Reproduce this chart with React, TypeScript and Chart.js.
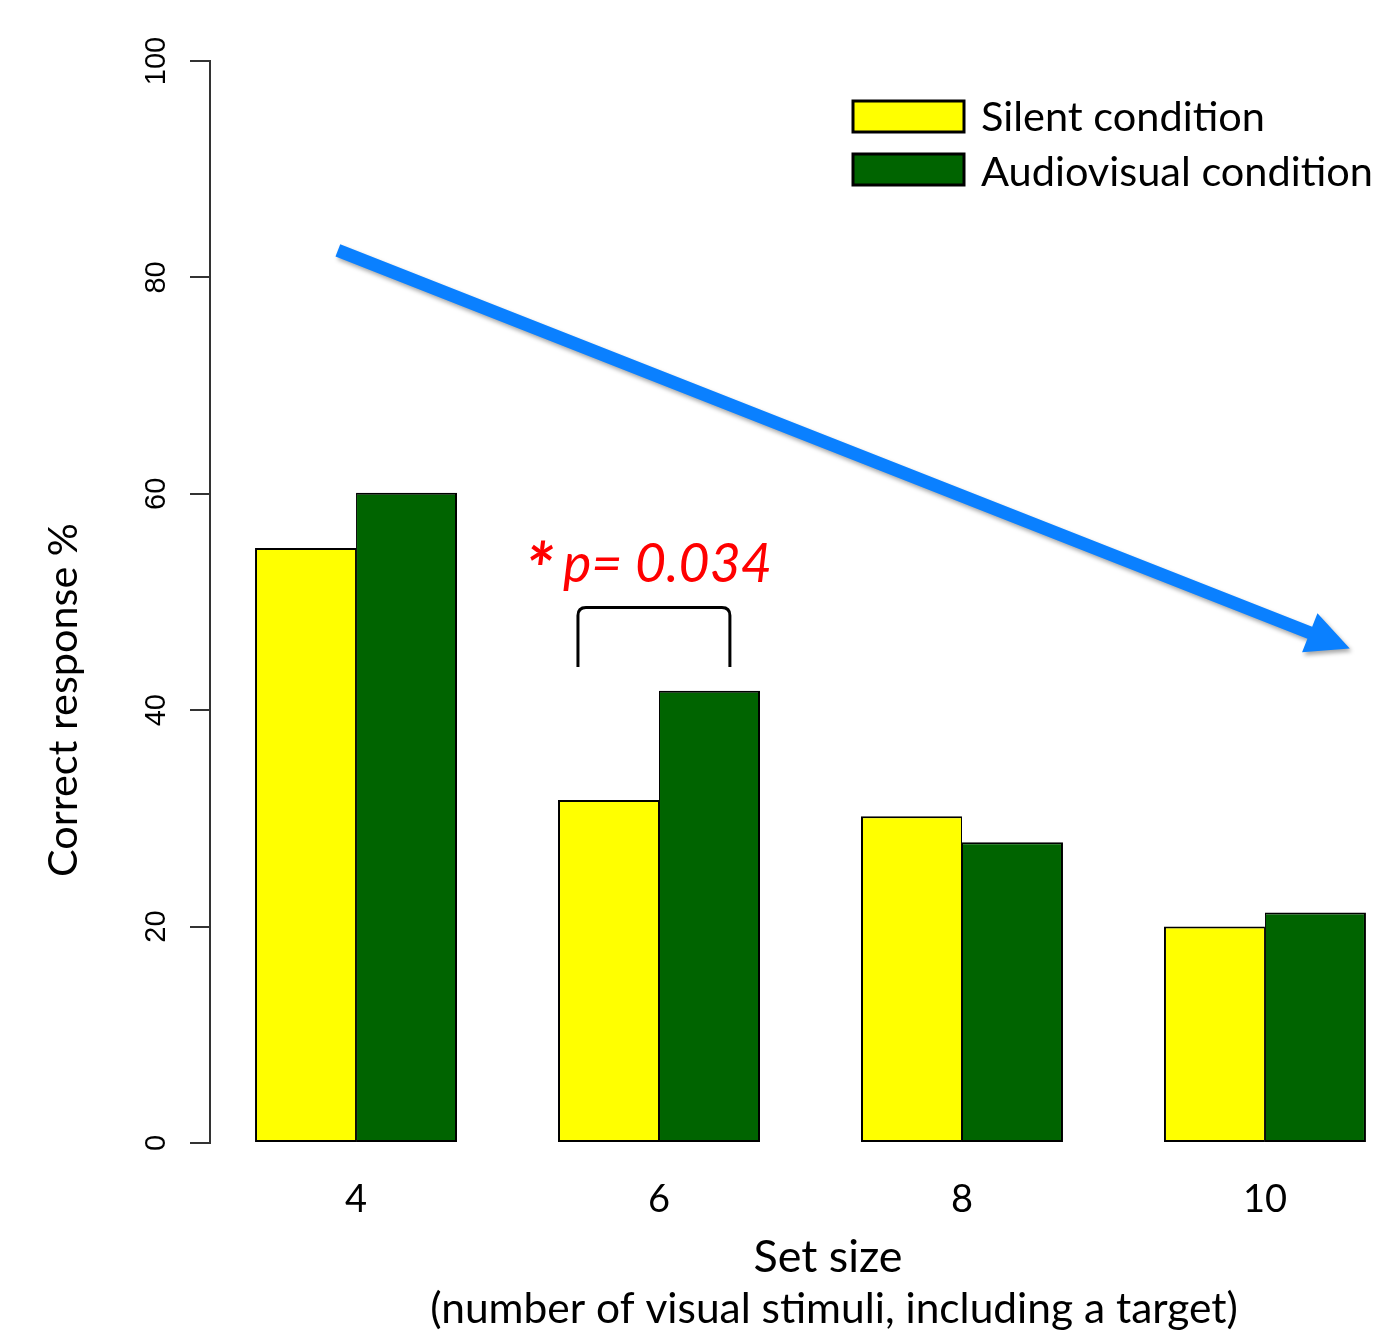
import React, { useEffect, useRef } from "react";
import { Chart, registerables } from "chart.js";

Chart.register(...registerables);

// ---------------- data ----------------
const setSizes = [4, 6, 8, 10];
const silentValues = [55.0, 31.7, 30.2, 20.0];
const audiovisualValues = [60.1, 41.8, 27.8, 21.3];
const yTickValues = [0, 20, 40, 60, 80, 100];
const seriesLabels = ["Silent condition", "Audiovisual condition"];
const seriesColors = ["#ffff00", "#006400"];
const yTitleText = "Correct response %";
const xTitleLines = ["Set size", "(number of visual stimuli, including a target)"];
const pStar = "*";
const pValueText = "p= 0.034";

const W = 1382;
const H = 1333;
const SANS = 'Lato, "Open Sans", sans-serif';

function fitSize(ctx: CanvasRenderingContext2D, text: string, width: number, family: string, style = "") {
  ctx.font = `${style} 100px ${family}`;
  const w = ctx.measureText(text).width;
  return (100 * width) / w;
}

const overlayPlugin = {
  id: "overlay",
  afterDraw(chart: any) {
    const ctx: CanvasRenderingContext2D = chart.ctx;
    const x = chart.scales.x;
    const y = chart.scales.y;
    ctx.save();

    // y tick labels (rotated, R style)
    ctx.fillStyle = "#000";
    ctx.font = '29px "Liberation Sans", Arial, sans-serif';
    ctx.textAlign = "center";
    ctx.textBaseline = "alphabetic";
    y.ticks.forEach((t: any) => {
      const py = y.getPixelForValue(t.value);
      ctx.save();
      ctx.translate(165, py);
      ctx.rotate(-Math.PI / 2);
      ctx.fillText(String(t.value), 0, 0);
      ctx.restore();
    });

    // y title
    const ys = fitSize(ctx, yTitleText, 354, SANS);
    ctx.font = `${ys}px ${SANS}`;
    ctx.save();
    ctx.translate(77, 700);
    ctx.rotate(-Math.PI / 2);
    ctx.fillText(yTitleText, 0, 0);
    ctx.restore();

    // x title lines
    const s1 = fitSize(ctx, xTitleLines[0], 149, SANS);
    ctx.font = `${s1}px ${SANS}`;
    ctx.fillText(xTitleLines[0], 828, 1272);
    const s2 = fitSize(ctx, xTitleLines[1], 808, SANS);
    ctx.font = `${s2}px ${SANS}`;
    ctx.fillText(xTitleLines[1], 834, 1323);

    // legend
    const ls = fitSize(ctx, seriesLabels[1], 392, SANS);
    chart.data.datasets.forEach((ds: any, i: number) => {
      const by = 101 + i * 53;
      ctx.fillStyle = ds.backgroundColor;
      ctx.fillRect(853, by, 111, 31);
      ctx.lineWidth = 3;
      ctx.strokeStyle = "#000";
      ctx.strokeRect(853, by, 111, 31);
      ctx.fillStyle = "#000";
      ctx.font = `${ls}px ${SANS}`;
      ctx.textAlign = "left";
      ctx.fillText(ds.label, 981, 131 + i * 55);
    });

    // significance bracket
    const bl = x.getPixelForValue(5.465);
    const br = x.getPixelForValue(6.468);
    const bb = y.getPixelForValue(44.0);
    const bt = y.getPixelForValue(49.5);
    const r = 8;
    ctx.beginPath();
    ctx.moveTo(bl, bb);
    ctx.lineTo(bl, bt + r);
    ctx.quadraticCurveTo(bl, bt, bl + r, bt);
    ctx.lineTo(br - r, bt);
    ctx.quadraticCurveTo(br, bt, br, bt + r);
    ctx.lineTo(br, bb);
    ctx.lineWidth = 3;
    ctx.strokeStyle = "#000";
    ctx.stroke();

    // p-value text
    ctx.fillStyle = "#ff0000";
    ctx.textAlign = "left";
    const pBase = y.getPixelForValue(51.85);
    ctx.font = `italic bold 72px ${SANS}`;
    ctx.fillText(pStar, x.getPixelForValue(5.115), pBase + 14);
    const ps = fitSize(ctx, pValueText, 209, SANS, "italic");
    ctx.font = `italic ${ps}px ${SANS}`;
    ctx.fillText(pValueText, x.getPixelForValue(5.366), pBase);

    // trend arrow
    const sx = x.getPixelForValue(3.88);
    const sy = y.getPixelForValue(82.5);
    const tx = x.getPixelForValue(10.56);
    const ty = y.getPixelForValue(45.7);
    const dx = tx - sx;
    const dy = ty - sy;
    const len = Math.hypot(dx, dy);
    const ux = dx / len;
    const uy = dy / len;
    const nx = -uy;
    const ny = ux;
    const hl = 43;
    const hw = 21;
    const sw = 6.5;
    const bx = tx - ux * hl;
    const byy = ty - uy * hl;
    ctx.save();
    ctx.shadowColor = "rgba(0,0,0,0.35)";
    ctx.shadowBlur = 4;
    ctx.shadowOffsetX = 2;
    ctx.shadowOffsetY = 3;
    ctx.fillStyle = "#0a80ff";
    ctx.beginPath();
    ctx.moveTo(sx + nx * sw, sy + ny * sw);
    ctx.lineTo(bx + nx * sw, byy + ny * sw);
    ctx.lineTo(bx + nx * hw, byy + ny * hw);
    ctx.lineTo(tx, ty);
    ctx.lineTo(bx - nx * hw, byy - ny * hw);
    ctx.lineTo(bx - nx * sw, byy - ny * sw);
    ctx.lineTo(sx - nx * sw, sy - ny * sw);
    ctx.closePath();
    ctx.fill();
    ctx.restore();

    ctx.restore();
  },
};

export default function App() {
  const ref = useRef<HTMLCanvasElement | null>(null);

  useEffect(() => {
    if (!ref.current) return;
    const chart = new Chart(ref.current, {
      type: "bar",
      data: {
        datasets: [
          {
            label: seriesLabels[0],
            data: setSizes.map((s, i) => ({ x: s, y: silentValues[i] })),
            backgroundColor: seriesColors[0],
            borderColor: "#000",
            borderWidth: { top: 2, left: 2, bottom: 2, right: 1 },
            borderSkipped: false,
            categoryPercentage: 2 / 3,
            barPercentage: 1,
          },
          {
            label: seriesLabels[1],
            data: setSizes.map((s, i) => ({ x: s, y: audiovisualValues[i] })),
            backgroundColor: seriesColors[1],
            borderColor: "#000",
            borderWidth: { top: 2, left: 1, bottom: 2, right: 2 },
            borderSkipped: false,
            categoryPercentage: 2 / 3,
            barPercentage: 1,
          },
        ],
      } as any,
      options: {
        responsive: false,
        animation: false,
        layout: { padding: { left: 0, right: 16, top: 61, bottom: 0 } },
        plugins: { legend: { display: false }, tooltip: { enabled: false } },
        scales: {
          x: {
            type: "linear",
            min: 3.036,
            max: 10.667,
            offset: false,
            grid: { display: false, drawTicks: false, offset: false },
            border: { display: false },
            ticks: {
              color: "#000",
              font: { family: SANS, size: 38 },
              padding: 34,
              maxRotation: 0,
              callback: (v: any) => String(v),
            },
            afterBuildTicks: (s: any) => {
              s.ticks = setSizes.map((v) => ({ value: v }));
            },
            afterFit: (s: any) => {
              s.height = 190;
            },
          },
          y: {
            min: 0,
            max: 100,
            ticks: { color: "rgba(0,0,0,0)", font: { size: 10 }, padding: 0 },
            afterBuildTicks: (s: any) => {
              s.ticks = yTickValues.map((v) => ({ value: v }));
            },
            grid: {
              drawOnChartArea: false,
              drawTicks: true,
              tickLength: 20,
              color: "#333",
              lineWidth: 2,
            },
            border: { display: true, color: "#333", width: 2 },
            afterFit: (s: any) => {
              s.width = 210;
            },
          },
        },
      } as any,
      plugins: [overlayPlugin],
    });
    return () => chart.destroy();
  }, []);

  return (
    <div style={{ position: "fixed", left: 0, top: 0, width: W, height: H, background: "#fff" }}>
      <canvas ref={ref} width={W} height={H} style={{ display: "block" }} />
    </div>
  );
}
